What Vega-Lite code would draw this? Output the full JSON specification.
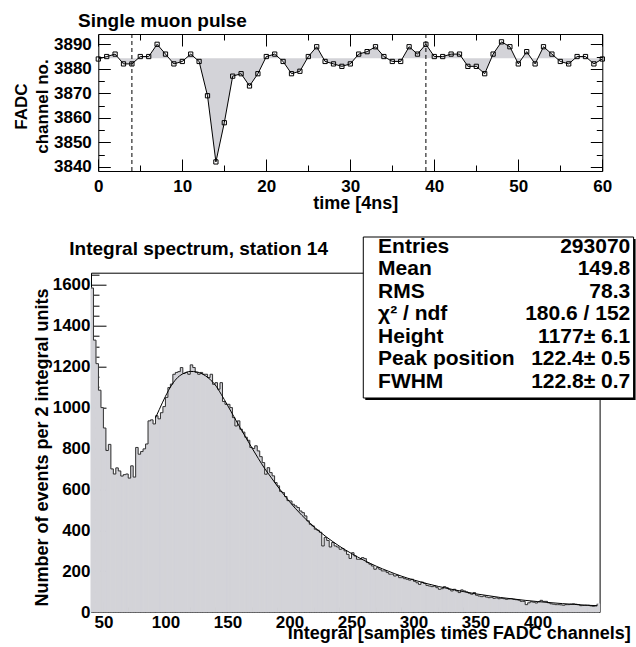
{
  "$schema": "https://vega.github.io/schema/vega-lite/v6.json",
  "padding": {"left": 12, "top": 11, "right": 0, "bottom": 0},
  "background": "white",
  "bounds": "flush",
  "spacing": 101.7,
  "config": {
    "font": "Liberation Sans",
    "view": {"stroke": null},
    "axis": {
      "labelFont": "Liberation Sans", "labelFontWeight": "bold", "labelFontSize": 17, "labelColor": "black",
      "titleFont": "Liberation Sans", "titleFontWeight": "bold", "titleFontSize": 18, "titleColor": "black",
      "tickColor": "black", "tickWidth": 1, "domainColor": "black", "domainWidth": 1, "grid": false, "zindex": 1,
      "labelOverlap": false, "labelFlush": false, "labelBound": false
    },
    "title": {"font": "Liberation Sans", "fontWeight": "bold", "fontSize": 19, "color": "black"}
  },
  "datasets": {
    "pulse": [
      {"t":0,"adc":3884},{"t":1,"adc":3885},{"t":2,"adc":3886},{"t":3,"adc":3882},{"t":4,"adc":3882},{"t":5,"adc":3885},{"t":6,"adc":3885},{"t":7,"adc":3890},{"t":8,"adc":3886},{"t":9,"adc":3882},
      {"t":10,"adc":3883},{"t":11,"adc":3886},{"t":12,"adc":3883},{"t":13,"adc":3869},{"t":14,"adc":3842},{"t":15,"adc":3858},{"t":16,"adc":3877},{"t":17,"adc":3878},{"t":18,"adc":3873},{"t":19,"adc":3878},
      {"t":20,"adc":3885},{"t":21,"adc":3886},{"t":22,"adc":3883},{"t":23,"adc":3878},{"t":24,"adc":3879},{"t":25,"adc":3885},{"t":26,"adc":3889},{"t":27,"adc":3883},{"t":28,"adc":3882},{"t":29,"adc":3881},
      {"t":30,"adc":3882},{"t":31,"adc":3886},{"t":32,"adc":3887},{"t":33,"adc":3889},{"t":34,"adc":3885},{"t":35,"adc":3883},{"t":36,"adc":3883},{"t":37,"adc":3889},{"t":38,"adc":3886},{"t":39,"adc":3890},
      {"t":40,"adc":3885},{"t":41,"adc":3885},{"t":42,"adc":3886},{"t":43,"adc":3886},{"t":44,"adc":3881},{"t":45,"adc":3881},{"t":46,"adc":3878},{"t":47,"adc":3886},{"t":48,"adc":3891},{"t":49,"adc":3889},
      {"t":50,"adc":3882},{"t":51,"adc":3887},{"t":52,"adc":3882},{"t":53,"adc":3889},{"t":54,"adc":3886},{"t":55,"adc":3883},{"t":56,"adc":3882},{"t":57,"adc":3885},{"t":58,"adc":3885},{"t":59,"adc":3882},
      {"t":60,"adc":3884}
    ],
    "window": [{"t": 4}, {"t": 39}],
    "hist": [
      {"lo":40,"hi":42,"n":1585},{"lo":42,"hi":44,"n":1330},{"lo":44,"hi":46,"n":1215},{"lo":46,"hi":48,"n":1085},{"lo":48,"hi":50,"n":1000},
      {"lo":50,"hi":52,"n":900},{"lo":52,"hi":54,"n":790},{"lo":54,"hi":56,"n":820},{"lo":56,"hi":58,"n":700},{"lo":58,"hi":60,"n":675},
      {"lo":60,"hi":62,"n":705},{"lo":62,"hi":64,"n":690},{"lo":64,"hi":66,"n":665},{"lo":66,"hi":68,"n":672},{"lo":68,"hi":70,"n":675},
      {"lo":70,"hi":72,"n":655},{"lo":72,"hi":74,"n":715},{"lo":74,"hi":76,"n":660},{"lo":76,"hi":78,"n":805},{"lo":78,"hi":80,"n":772},
      {"lo":80,"hi":82,"n":785},{"lo":82,"hi":84,"n":798},{"lo":84,"hi":86,"n":822},{"lo":86,"hi":88,"n":935},{"lo":88,"hi":90,"n":940},
      {"lo":90,"hi":92,"n":920},{"lo":92,"hi":94,"n":960},{"lo":94,"hi":96,"n":945},{"lo":96,"hi":98,"n":975},{"lo":98,"hi":100,"n":1005},
      {"lo":100,"hi":102,"n":1050},{"lo":102,"hi":104,"n":1098},{"lo":104,"hi":106,"n":1115},{"lo":106,"hi":108,"n":1163},{"lo":108,"hi":110,"n":1172},
      {"lo":110,"hi":112,"n":1176},{"lo":112,"hi":114,"n":1196},{"lo":114,"hi":116,"n":1167},{"lo":116,"hi":118,"n":1172},{"lo":118,"hi":120,"n":1163},
      {"lo":120,"hi":122,"n":1209},{"lo":122,"hi":124,"n":1196},{"lo":124,"hi":126,"n":1172},{"lo":126,"hi":128,"n":1163},{"lo":128,"hi":130,"n":1172},
      {"lo":130,"hi":132,"n":1163},{"lo":132,"hi":134,"n":1163},{"lo":134,"hi":136,"n":1147},{"lo":136,"hi":138,"n":1163},{"lo":138,"hi":140,"n":1114},
      {"lo":140,"hi":142,"n":1122},{"lo":142,"hi":144,"n":1090},{"lo":144,"hi":146,"n":1122},{"lo":146,"hi":148,"n":1030},{"lo":148,"hi":150,"n":1016},
      {"lo":150,"hi":152,"n":1016},{"lo":152,"hi":154,"n":1000},{"lo":154,"hi":156,"n":951},{"lo":156,"hi":158,"n":910},{"lo":158,"hi":160,"n":935},
      {"lo":160,"hi":162,"n":894},{"lo":162,"hi":164,"n":880},{"lo":164,"hi":166,"n":855},{"lo":166,"hi":168,"n":840},{"lo":168,"hi":170,"n":805},
      {"lo":170,"hi":172,"n":800},{"lo":172,"hi":174,"n":813},{"lo":174,"hi":176,"n":788},{"lo":176,"hi":178,"n":760},{"lo":178,"hi":180,"n":731},
      {"lo":180,"hi":182,"n":674},{"lo":182,"hi":184,"n":706},{"lo":184,"hi":186,"n":682},{"lo":186,"hi":188,"n":666},{"lo":188,"hi":190,"n":633},
      {"lo":190,"hi":192,"n":617},{"lo":192,"hi":194,"n":590},{"lo":194,"hi":196,"n":584},{"lo":196,"hi":198,"n":565},{"lo":198,"hi":200,"n":545},
      {"lo":200,"hi":202,"n":543},{"lo":202,"hi":204,"n":527},{"lo":204,"hi":206,"n":519},{"lo":206,"hi":208,"n":511},{"lo":208,"hi":210,"n":494},
      {"lo":210,"hi":212,"n":486},{"lo":212,"hi":214,"n":470},{"lo":214,"hi":216,"n":446},{"lo":216,"hi":218,"n":429},{"lo":218,"hi":220,"n":421},
      {"lo":220,"hi":222,"n":405},{"lo":222,"hi":224,"n":400},{"lo":224,"hi":226,"n":390},{"lo":226,"hi":228,"n":323},{"lo":228,"hi":230,"n":365},
      {"lo":230,"hi":232,"n":350},{"lo":232,"hi":234,"n":318},{"lo":234,"hi":236,"n":340},{"lo":236,"hi":238,"n":323},{"lo":238,"hi":240,"n":318},
      {"lo":240,"hi":242,"n":307},{"lo":242,"hi":244,"n":310},{"lo":244,"hi":246,"n":299},{"lo":246,"hi":248,"n":282},{"lo":248,"hi":250,"n":262},
      {"lo":250,"hi":252,"n":290},{"lo":252,"hi":254,"n":274},{"lo":254,"hi":256,"n":258},{"lo":256,"hi":258,"n":258},{"lo":258,"hi":260,"n":266},
      {"lo":260,"hi":262,"n":261},{"lo":262,"hi":264,"n":242},{"lo":264,"hi":266,"n":234},{"lo":266,"hi":268,"n":225},{"lo":268,"hi":270,"n":209},
      {"lo":270,"hi":272,"n":217},{"lo":272,"hi":274,"n":209},{"lo":274,"hi":276,"n":201},{"lo":276,"hi":278,"n":201},{"lo":278,"hi":280,"n":193},
      {"lo":280,"hi":282,"n":185},{"lo":282,"hi":284,"n":185},{"lo":284,"hi":286,"n":176},{"lo":286,"hi":288,"n":179},{"lo":288,"hi":290,"n":168},
      {"lo":290,"hi":292,"n":168},{"lo":292,"hi":294,"n":163},{"lo":294,"hi":296,"n":160},{"lo":296,"hi":298,"n":156},{"lo":298,"hi":300,"n":160},
      {"lo":300,"hi":302,"n":150},{"lo":302,"hi":304,"n":143},{"lo":304,"hi":306,"n":135},{"lo":306,"hi":308,"n":146},{"lo":308,"hi":310,"n":140},
      {"lo":310,"hi":312,"n":130},{"lo":312,"hi":314,"n":127},{"lo":314,"hi":316,"n":124},{"lo":316,"hi":318,"n":127},{"lo":318,"hi":320,"n":119},
      {"lo":320,"hi":322,"n":111},{"lo":322,"hi":324,"n":114},{"lo":324,"hi":326,"n":124},{"lo":326,"hi":328,"n":119},{"lo":328,"hi":330,"n":111},
      {"lo":330,"hi":332,"n":103},{"lo":332,"hi":334,"n":111},{"lo":334,"hi":336,"n":103},{"lo":336,"hi":338,"n":95},{"lo":338,"hi":340,"n":108},
      {"lo":340,"hi":342,"n":103},{"lo":342,"hi":344,"n":98},{"lo":344,"hi":346,"n":92},{"lo":346,"hi":348,"n":87},{"lo":348,"hi":350,"n":95},
      {"lo":350,"hi":352,"n":82},{"lo":352,"hi":354,"n":78},{"lo":354,"hi":356,"n":75},{"lo":356,"hi":358,"n":78},{"lo":358,"hi":360,"n":73},
      {"lo":360,"hi":362,"n":70},{"lo":362,"hi":364,"n":72},{"lo":364,"hi":366,"n":67},{"lo":366,"hi":368,"n":69},{"lo":368,"hi":370,"n":65},
      {"lo":370,"hi":372,"n":67},{"lo":372,"hi":374,"n":65},{"lo":374,"hi":376,"n":62},{"lo":376,"hi":378,"n":64},{"lo":378,"hi":380,"n":65},
      {"lo":380,"hi":382,"n":62},{"lo":382,"hi":384,"n":60},{"lo":384,"hi":386,"n":58},{"lo":386,"hi":388,"n":52},{"lo":388,"hi":390,"n":52},
      {"lo":390,"hi":392,"n":36},{"lo":392,"hi":394,"n":45},{"lo":394,"hi":396,"n":50},{"lo":396,"hi":398,"n":48},{"lo":398,"hi":400,"n":44},
      {"lo":400,"hi":402,"n":50},{"lo":402,"hi":404,"n":57},{"lo":404,"hi":406,"n":52},{"lo":406,"hi":408,"n":52},{"lo":408,"hi":410,"n":45},
      {"lo":410,"hi":412,"n":40},{"lo":412,"hi":414,"n":38},{"lo":414,"hi":416,"n":36},{"lo":416,"hi":418,"n":36},{"lo":418,"hi":420,"n":35},
      {"lo":420,"hi":422,"n":33},{"lo":422,"hi":424,"n":36},{"lo":424,"hi":426,"n":36},{"lo":426,"hi":428,"n":38},{"lo":428,"hi":430,"n":40},
      {"lo":430,"hi":432,"n":38},{"lo":432,"hi":434,"n":36},{"lo":434,"hi":436,"n":31},{"lo":436,"hi":438,"n":32},{"lo":438,"hi":440,"n":33},
      {"lo":440,"hi":442,"n":33},{"lo":442,"hi":444,"n":30},{"lo":444,"hi":446,"n":28},{"lo":446,"hi":448,"n":30},{"lo":448,"hi":450,"n":40}
    ],
    "fit": [
      {"x":92,"y":950},{"x":95,"y":990},{"x":100,"y":1055},{"x":105,"y":1110},{"x":110,"y":1148},{"x":115,"y":1168},{"x":120,"y":1177},{"x":125,"y":1175},
      {"x":130,"y":1164},{"x":135,"y":1143},{"x":140,"y":1112},{"x":145,"y":1065},{"x":150,"y":1012},{"x":155,"y":958},{"x":160,"y":904},{"x":165,"y":852},
      {"x":170,"y":800},{"x":175,"y":750},{"x":180,"y":702},{"x":185,"y":660},{"x":190,"y":618},{"x":195,"y":578},{"x":200,"y":540},{"x":205,"y":505},
      {"x":210,"y":473},{"x":215,"y":443},{"x":220,"y":415},{"x":225,"y":390},{"x":230,"y":366},{"x":235,"y":344},{"x":240,"y":323},{"x":245,"y":304},
      {"x":250,"y":286},{"x":255,"y":269},{"x":260,"y":253},{"x":265,"y":238},{"x":270,"y":224},{"x":275,"y":211},{"x":280,"y":199},{"x":285,"y":187},
      {"x":290,"y":176},{"x":295,"y":166},{"x":300,"y":157},{"x":310,"y":140},{"x":320,"y":125},{"x":330,"y":112},{"x":340,"y":100},{"x":350,"y":89},
      {"x":360,"y":80},{"x":370,"y":71},{"x":380,"y":64},{"x":390,"y":57},{"x":400,"y":51},{"x":410,"y":46},{"x":420,"y":41},{"x":430,"y":37},
      {"x":440,"y":33},{"x":448,"y":31}
    ],
    "stats": [
      {"row":1,"label":"Entries","value":"293070"},
      {"row":2,"label":"Mean","value":"149.8"},
      {"row":3,"label":"RMS","value":"78.3"},
      {"row":4,"label":"χ² / ndf","value":"180.6 / 152"},
      {"row":5,"label":"Height","value":"1177± 6.1"},
      {"row":6,"label":"Peak position","value":"122.4± 0.5"},
      {"row":7,"label":"FWHM","value":"122.8± 0.7"}
    ]
  },
  "vconcat": [
    {
      "width": 511.3,
      "height": 137,
      "title": {"text": "Single muon pulse", "anchor": "start", "frame": "group", "dx": -13, "offset": -12, "baseline": "alphabetic", "fontSize": 19},
      "data": {"name": "pulse"},
      "layer": [
        {
          "mark": {"type": "area", "color": "#d3d3d8"},
          "encoding": {
            "x": {"field": "t", "type": "quantitative",
              "scale": {"domain": [0, 60], "range": [7.3, 511.3], "nice": false, "zero": false},
              "axis": {"orient": "bottom", "values": [0,10,20,30,40,50,60], "format": "d", "tickSize": -12, "labelPadding": 19, "domain": true,
                "title": "time [4ns]", "titleX": 264.3, "titleY": 37, "titleAlign": "center", "titleBaseline": "alphabetic", "titleFontSize": 18}},
            "y": {"field": "adc", "type": "quantitative",
              "scale": {"domain": [3838.3, 3894.2], "nice": false, "zero": false},
              "axis": {"orient": "left", "offset": -7.3, "values": [3840,3850,3860,3870,3880,3890], "format": "d", "tickSize": -12, "labelPadding": 19, "domain": true,
                "title": ["FADC", "channel no."], "titleX": -72, "titleY": 72, "titleBaseline": "alphabetic", "titleLineHeight": 21, "titleFontSize": 17}},
            "y2": {"datum": 3884.3}
          }
        },
        {
          "mark": {"type": "line", "color": "black", "strokeWidth": 1},
          "encoding": {
            "x": {"field": "t", "type": "quantitative",
              "axis": {"orient": "bottom", "values": [5,15,25,35,45,55], "tickSize": -6, "labels": false, "domain": false, "title": null}},
            "y": {"field": "adc", "type": "quantitative",
              "axis": {"orient": "left", "offset": -7.3, "values": [3845,3855,3865,3875,3885], "tickSize": -6, "labels": false, "domain": false, "title": null}}
          }
        },
        {
          "mark": {"type": "point", "shape": "square", "filled": false, "color": "black", "size": 18, "strokeWidth": 1, "opacity": 1},
          "encoding": {
            "x": {"field": "t", "type": "quantitative",
              "axis": {"orient": "top", "values": [0,10,20,30,40,50,60], "tickSize": -12, "labels": false, "domain": true, "title": null}},
            "y": {"field": "adc", "type": "quantitative",
              "axis": {"orient": "right", "values": [3840,3850,3860,3870,3880,3890], "tickSize": -12, "labels": false, "domain": true, "title": null}}
          }
        },
        {
          "data": {"name": "window"},
          "mark": {"type": "rule", "color": "black", "strokeWidth": 1, "strokeDash": [4, 3]},
          "encoding": {
            "x": {"field": "t", "type": "quantitative",
              "axis": {"orient": "top", "values": [5,15,25,35,45,55], "tickSize": -6, "labels": false, "domain": false, "title": null}},
            "y": {"datum": 3838.3, "type": "quantitative",
              "axis": {"orient": "right", "values": [3845,3855,3865,3875,3885], "tickSize": -6, "labels": false, "domain": false, "title": null}},
            "y2": {"datum": 3894.2}
          }
        }
      ],
      "resolve": {"axis": {"x": "independent", "y": "independent"}}
    },
    {
      "width": 508.6,
      "height": 339.3,
      "view": {"stroke": "black", "strokeWidth": 1},
      "title": {"text": "Integral spectrum, station 14", "anchor": "start", "frame": "group", "dx": -21.7, "offset": -38, "baseline": "alphabetic", "fontSize": 19},
      "layer": [
        {
          "layer": [
            {
              "data": {"name": "hist"},
              "mark": {"type": "rect", "color": "#d3d3d8", "stroke": "#d3d3d8", "strokeWidth": 1},
              "encoding": {
                "x": {"field": "lo", "type": "quantitative",
                  "scale": {"domain": [40, 450], "nice": false, "zero": false},
                  "axis": {"orient": "bottom", "values": [50,100,150,200,250,300,350,400], "format": "d", "tickSize": -10, "labelPadding": 12.5, "domain": false,
                    "title": "Integral [samples times FADC channels]", "titleX": 539.3, "titleY": 26, "titleAlign": "right", "titleBaseline": "alphabetic"}},
                "x2": {"field": "hi"},
                "y": {"field": "n", "type": "quantitative",
                  "scale": {"domain": [0, 1660], "nice": false, "zero": false},
                  "axis": {"orient": "left", "values": [0,200,400,600,800,1000,1200,1400,1600], "format": "d", "tickSize": -15, "labelPadding": 16, "domain": false,
                    "title": "Number of events per 2 integral units", "titleX": -43.7, "titleY": 174.3, "titleBaseline": "alphabetic"}},
                "y2": {"datum": 0}
              }
            },
            {
              "data": {"name": "hist"},
              "mark": {"type": "line", "interpolate": "step-after", "color": "#333333", "strokeWidth": 1},
              "encoding": {
                "x": {"field": "lo", "type": "quantitative",
                  "axis": {"orient": "bottom", "values": [60,70,80,90,110,120,130,140,160,170,180,190,210,220,230,240,260,270,280,290,310,320,330,340,360,370,380,390,410,420,430,440], "tickSize": -5, "labels": false, "domain": false, "title": null}},
                "y": {"field": "n", "type": "quantitative",
                  "axis": {"orient": "left", "values": [50,100,150,250,300,350,450,500,550,650,700,750,850,900,950,1050,1100,1150,1250,1300,1350,1450,1500,1550,1650], "tickSize": -8, "labels": false, "domain": false, "title": null}}
              }
            },
            {
              "data": {"name": "fit"},
              "mark": {"type": "line", "interpolate": "monotone", "color": "black", "strokeWidth": 1},
              "encoding": {
                "x": {"field": "x", "type": "quantitative", "axis": null},
                "y": {"field": "y", "type": "quantitative", "axis": null}
              }
            },
            {
              "data": {"values": [{}]},
              "mark": {"type": "rect", "color": "black"},
              "encoding": {
                "x": {"datum": 261.1, "type": "quantitative", "axis": null},
                "x2": {"datum": 479},
                "y": {"datum": 1824.8, "type": "quantitative", "axis": null},
                "y2": {"datum": 1037}
              }
            },
            {
              "data": {"values": [{}]},
              "mark": {"type": "rect", "fill": "white", "stroke": "black", "strokeWidth": 1},
              "encoding": {
                "x": {"datum": 259.5, "type": "quantitative", "axis": null},
                "x2": {"datum": 477.4},
                "y": {"datum": 1834.6, "type": "quantitative", "axis": null},
                "y2": {"datum": 1047}
              }
            }
          ],
          "resolve": {"axis": {"x": "independent", "y": "independent"}}
        },
        {
          "data": {"name": "stats"},
          "layer": [
            {
              "mark": {"type": "text", "align": "left", "baseline": "middle", "font": "Liberation Sans", "fontWeight": "bold", "fontSize": 21, "color": "black"},
              "encoding": {
                "x": {"datum": 271.4, "type": "quantitative", "axis": null},
                "y": {"field": "row", "type": "quantitative", "scale": {"domain": [2.156, 17.236], "reverse": true, "nice": false, "zero": false}, "axis": null},
                "text": {"field": "label"}
              }
            },
            {
              "mark": {"type": "text", "align": "right", "baseline": "middle", "font": "Liberation Sans", "fontWeight": "bold", "fontSize": 21, "color": "black"},
              "encoding": {
                "x": {"datum": 474.7, "type": "quantitative", "axis": null},
                "y": {"field": "row", "type": "quantitative", "axis": null},
                "text": {"field": "value"}
              }
            }
          ]
        }
      ],
      "resolve": {"scale": {"y": "independent"}}
    }
  ]
}
